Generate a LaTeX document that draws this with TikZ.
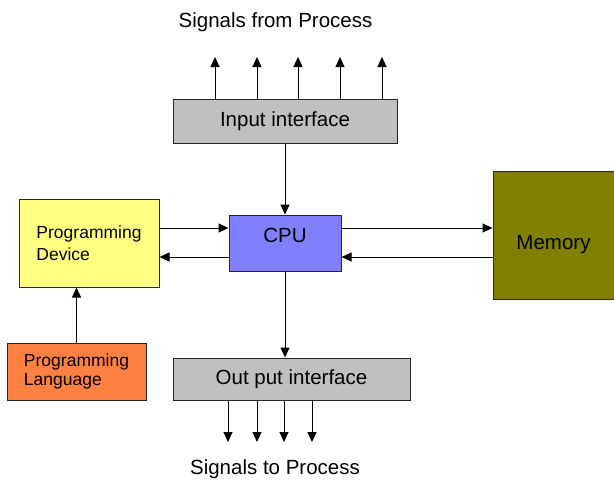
\documentclass[tikz,border=0pt]{standalone}
\usepackage{fontspec}
\setmainfont{Liberation Sans}
\usetikzlibrary{positioning,arrows.meta}
\definecolor{ifacegray}{HTML}{C0C0C0}
\definecolor{cpublue}{HTML}{8080FF}
\definecolor{devyellow}{HTML}{FFFF80}
\definecolor{langorange}{HTML}{FF8040}
\definecolor{memolive}{HTML}{808000}

\begin{document}
\begin{tikzpicture}[
  x=1pt, y=-1pt, >={Triangle[length=10pt,width=9pt]}, line width=1pt,
  box/.style={draw=black!85, line width=1pt, inner sep=0pt, font=\fontsize{20.5}{24}\selectfont},
  iface/.style={box, fill=ifacegray},
  cpubox/.style={box, fill=cpublue, text depth=16pt},
  devbox/.style={box, fill=devyellow, align=left, font=\fontsize{17.5}{22}\selectfont},
  langbox/.style={box, fill=langorange, align=left, font=\fontsize{17.5}{19.5}\selectfont},
  membox/.style={box, fill=memolive, text height=33pt},
  sig/.style={font=\fontsize{20.5}{24}\selectfont, inner sep=0pt},
]
  \useasboundingbox (0,0) rectangle (614,482);
  \node[iface, minimum width=224pt, minimum height=44pt] (in) at (285,121) {Input interface};
  \node[cpubox, minimum width=112pt, minimum height=56pt] (cpu) at (285,243) {CPU};
  \node[devbox, minimum width=140pt, minimum height=88pt] (dev) at (89,243) {Programming\\Device};
  \node[langbox, minimum width=139pt, minimum height=57pt] (lang) at (76.5,371.5) {Programming\\Language};
  \node[membox, minimum width=121pt, minimum height=128pt] (mem) at (553.5,235) {Memory};
  \node[iface, minimum width=237pt, minimum height=42pt] (out) at (291.5,379) {Out put interface};
  \node[sig] (sigin) at (275.5,22) {Signals from Process};
  \node[sig] (sigout) at (275,469) {Signals to Process};
  \coordinate (up1) at (215,57);
  \coordinate (up2) at (257,57);
  \coordinate (up3) at (298,57);
  \coordinate (up4) at (340,57);
  \coordinate (up5) at (382,57);
  \coordinate (dn1) at (228,442);
  \coordinate (dn2) at (257,442);
  \coordinate (dn3) at (284,442);
  \coordinate (dn4) at (312,442);
  \draw[->] (in.north -| up1) -- (up1);
  \draw[->] (in.north -| up2) -- (up2);
  \draw[->] (in.north -| up3) -- (up3);
  \draw[->] (in.north -| up4) -- (up4);
  \draw[->] (in.north -| up5) -- (up5);
  \draw[->] (in.south) -- (in.south |- cpu.north);
  \draw[->] (cpu.south) -- (cpu.south |- out.north);
  \draw[->] (out.south -| dn1) -- (dn1);
  \draw[->] (out.south -| dn2) -- (dn2);
  \draw[->] (out.south -| dn3) -- (dn3);
  \draw[->] (out.south -| dn4) -- (dn4);
  \draw[->] ([yshift=15pt]dev.east) -- ([yshift=15pt]dev.east -| cpu.west);
  \draw[->] ([yshift=-14pt]cpu.west) -- ([yshift=-14pt]cpu.west -| dev.east);
  \draw[->] ([yshift=15pt]cpu.east) -- ([yshift=15pt]cpu.east -| mem.west);
  \draw[->] ([yshift=-14pt]cpu.east -| mem.west) -- ([yshift=-14pt]cpu.east);
  \draw[->] (lang.north) -- (lang.north |- dev.south);
\end{tikzpicture}
\end{document}
